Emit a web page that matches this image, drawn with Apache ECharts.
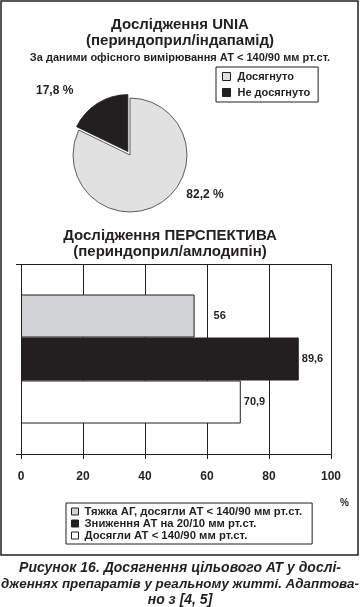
<!DOCTYPE html>
<html>
<head>
<meta charset="utf-8">
<script src="https://cdn.jsdelivr.net/npm/echarts@6/dist/echarts.min.js"></script>
<style>
html,body{margin:0;padding:0;background:#fff;}
#c{width:360px;height:607px;}
</style>
</head>
<body>
<div id="c"></div>
<script>
// ---- data ----
var pieNames = ['Досягнуто', 'Не досягнуто'];
var pieValues = [82.2, 17.8];
var barNames = ['Тяжка АГ, досягли АТ < 140/90 мм рт.ст.', 'Зниження АТ на 20/10 мм рт.ст.', 'Досягли АТ < 140/90 мм рт.ст.'];
var barValues = [56, 89.6, 70.9];
var xTicks = [0, 20, 40, 60, 80, 100];
var barCategory = [''];
var captionLines = ['Рисунок 16. Досягнення цільового АТ у дослі-', 'дженнях препаратів у реальному житті. Адаптова-', 'но з [4, 5]'];

var INK = '#231f20';
var FONT = '"Liberation Sans", Arial, sans-serif';
var pieColors = ['#e1e1e2', INK];
var barColors = ['#d1d2d4', INK, '#ffffff'];

function fmt(v) { return String(v).replace('.', ','); }

var chart = echarts.init(document.getElementById('c'), null, {renderer: 'canvas'});

var barSeries = barNames.map(function (n, i) {
  return {
    type: 'bar',
    name: n,
    barWidth: 43,
    barGap: '0%',
    itemStyle: {color: barColors[i], borderColor: INK, borderWidth: 1},
    label: {
      show: true, position: 'right', distance: i === 0 ? 19 : 3,
      fontFamily: FONT, fontWeight: 'bold', fontSize: 11, color: INK,
      formatter: function (p) { return fmt(p.value); }
    },
    data: [barValues[i]],
    z: 3
  };
});

var captionSizes = [14, 13.4, 14];
var captionTitles = captionLines.map(function (t, i) {
  return {text: t, left: 'center', top: 560 + i * 16, padding: 0,
    textStyle: {fontFamily: FONT, fontSize: captionSizes[i], fontWeight: 'bold', fontStyle: 'italic', color: INK, lineHeight: 16}};
});

var option = {
  backgroundColor: '#fff',
  animation: false,
  textStyle: {fontFamily: FONT},
  graphic: [{
    type: 'rect', shape: {x: 1, y: 1, width: 357, height: 554},
    style: {fill: null, stroke: INK, lineWidth: 1.5}, silent: true, z: 0
  }],
  title: [
    {text: 'Дослідження UNIA\n(периндоприл/індапамід)', left: 'center', top: 12,
     textStyle: {fontFamily: FONT, fontSize: 15, fontWeight: 'bold', color: INK, lineHeight: 16}},
    {text: 'За даними офісного вимірювання АТ < 140/90 мм рт.ст.', left: 'center', top: 47,
     textStyle: {fontFamily: FONT, fontSize: 11, fontWeight: 'bold', color: INK}},
    {text: 'Дослідження ПЕРСПЕКТИВА\n(периндоприл/амлодипін)', left: 165, textAlign: 'center', top: 223,
     textStyle: {fontFamily: FONT, fontSize: 15, fontWeight: 'bold', color: INK, lineHeight: 16}},
    {text: '%', left: 335, top: 493,
     textStyle: {fontFamily: FONT, fontSize: 10, fontWeight: 'bold', color: INK}}
  ].concat(captionTitles),
  legend: [
    {
      data: pieNames, orient: 'vertical', left: 216, top: 67,
      borderColor: INK, borderWidth: 1, padding: [4, 8, 4, 6], itemGap: 5,
      itemWidth: 8, itemHeight: 8, icon: 'rect',
      itemStyle: {borderColor: INK, borderWidth: 1},
      textStyle: {fontFamily: FONT, fontSize: 11, fontWeight: 'bold', color: INK, padding: [0, 0, 0, 2]},
      selectedMode: false
    },
    {
      data: barNames, orient: 'vertical', left: 66, top: 503,
      borderColor: INK, borderWidth: 1, padding: [3, 10, 3, 5], itemGap: 1,
      itemWidth: 7, itemHeight: 7, icon: 'rect',
      itemStyle: {borderColor: INK, borderWidth: 1},
      textStyle: {fontFamily: FONT, fontSize: 11.3, fontWeight: 'bold', color: INK, padding: [0, 0, 0, 1]},
      selectedMode: false
    }
  ],
  grid: {left: 21, right: 29, top: 264, bottom: 153, containLabel: false},
  xAxis: {
    type: 'value', min: xTicks[0], max: xTicks[xTicks.length - 1], interval: 20,
    axisLine: {show: true, lineStyle: {color: INK, width: 1}},
    axisTick: {show: true, length: 5, lineStyle: {color: INK}},
    splitLine: {show: true, lineStyle: {color: INK, width: 1}},
    axisLabel: {margin: 17, fontFamily: FONT, fontSize: 12, fontWeight: 'bold', color: INK}
  },
  yAxis: {
    type: 'category', data: barCategory, inverse: true,
    axisLine: {show: false},
    axisTick: {show: true, length: 5, lineStyle: {color: INK}},
    splitLine: {show: true, lineStyle: {color: INK, width: 1}},
    axisLabel: {show: false}
  },
  series: [{
    type: 'pie',
    name: 'UNIA',
    center: [130, 155],
    radius: 57,
    startAngle: 90,
    clockwise: true,
    selectedMode: 'single',
    selectedOffset: 4,
    avoidLabelOverlap: false,
    label: {
      show: true, position: 'outside',
      fontFamily: FONT, fontSize: 12, fontWeight: 'bold', color: INK,
      formatter: function (p) { return fmt(p.value) + ' %'; }
    },
    labelLine: {show: false},
    labelLayout: function (p) {
      return p.dataIndex === 1
        ? {x: 62, y: 93, align: 'center', verticalAlign: 'middle'}
        : {x: 205, y: 195, align: 'center', verticalAlign: 'middle'};
    },
    data: pieNames.map(function (n, i) {
      return {
        name: n, value: pieValues[i], selected: i === 1,
        itemStyle: {color: pieColors[i], borderColor: i === 0 ? '#3a3a3a' : INK, borderWidth: 0.8}
      };
    }),
    emphasis: {disabled: true}
  }].concat(barSeries)
};

chart.setOption(option);
</script>
</body>
</html>
